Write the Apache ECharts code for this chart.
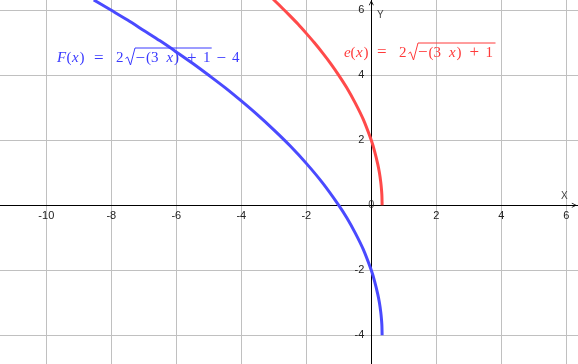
<!DOCTYPE html>
<html>
<head>
<meta charset="utf-8">
<script src="https://cdn.jsdelivr.net/npm/echarts@6/dist/echarts.min.js"></script>
<style>html,body{margin:0;padding:0;background:#fff;}#c{width:578px;height:364px;}</style>
</head>
<body>
<div id="c"></div>
<script>
// e(x) = 2 sqrt(-(3x)+1) : points
const eX = [-3.02, -2.75, -2.5, -2.25, -2, -1.75, -1.5, -1.25, -1, -0.75, -0.5, -0.25, 0, 0.1, 0.2, 0.25, 0.29, 0.31, 0.325, 0.333];
const eY = [6.34, 6.08, 5.83, 5.57, 5.29, 5.0, 4.69, 4.36, 4.0, 3.61, 3.16, 2.65, 2.0, 1.67, 1.26, 1.0, 0.72, 0.53, 0.32, 0.0];
// F(x) = e(x) - 4 : points
const fX = [-8.54, -8, -7.5, -7, -6.5, -6, -5.5, -5, -4.5, -4, -3.5, -3, -2.5, -2, -1.5, -1, -0.75, -0.5, -0.25, 0, 0.1, 0.2, 0.25, 0.29, 0.31, 0.325, 0.333];
const fY = [6.32, 6.0, 5.70, 5.38, 5.06, 4.72, 4.37, 4.0, 3.62, 3.21, 2.78, 2.32, 1.83, 1.29, 0.69, 0.0, -0.39, -0.84, -1.35, -2.0, -2.33, -2.74, -3.0, -3.28, -3.47, -3.68, -4.0];
// axis ranges, tick step and origin label
const xRange = [-12, 8];
const yRange = [-6, 8];
const tickStep = 2;
const origin = [0, 0];
const originText = '0';

const RED = '#ff4a4a';
const BLUE = '#4a4aff';
const RED_TXT = '#ff3a3a';
const BLUE_TXT = '#3a3aff';

const zip = (a, b) => a.map((v, i) => [v, b[i]]);

const chart = echarts.init(document.getElementById('c'), null, {renderer: 'canvas'});
const chevron = 'path://M0,10 L5,0 L10,10 L8.4,10 L5,3.2 L1.6,10 Z';
const labelFont = {fontFamily: 'Liberation Sans', fontSize: 11, color: '#222'};

const SERIF = 'Liberation Serif';
// build one formula label out of text pieces
function formula(pieces, x0, cy, col) {
  return pieces.map(p => ({
    type: 'text', x: x0 + p[1], y: cy, z: 50,
    style: {text: p[0], fontFamily: SERIF, fontSize: p[2] === 2 ? 17 : 15, fontStyle: p[2] === 1 ? 'italic' : 'normal',
      fill: col, verticalAlign: 'middle', align: 'left'}
  }));
}
const fPieces = [['F', 0, 1], ['(', 9.5], ['x', 15, 1], [')', 22.5], ['=', 37, 2], ['2', 59],
  ['−', 78.5, 2], ['(', 89], ['3', 94], ['x', 109.5, 1], [')', 117], ['+', 130, 2], ['1', 146], ['−', 159.5, 2], ['4', 175]];
const ePieces = [['e', 0, 1], ['(', 6.5], ['x', 12, 1], [')', 19.5], ['=', 33, 2], ['2', 55],
  ['−', 74, 2], ['(', 84.5], ['3', 89.5], ['x', 105, 1], [')', 112.5], ['+', 125.5, 2], ['1', 141.5]];

// grid extends past the window so that ticks fall on multiples of 2
const PX = 32.5; // pixels per unit
const gridLeft = -18.7, gridTop = -54.7;
chart.setOption({
  animation: false,
  backgroundColor: '#ffffff',
  grid: {left: gridLeft, right: -53.3, top: gridTop, bottom: -36.3, containLabel: false, outerBoundsMode: 'none'},
  xAxis: {
    type: 'value', min: xRange[0], max: xRange[1], interval: tickStep,
    position: 'bottom', offset: yRange[0] * PX,
    axisLine: {show: true, onZero: false, lineStyle: {color: '#000', width: 1},
      symbol: ['none', chevron], symbolSize: [7, 5], symbolOffset: [0, -57]},
    axisTick: {show: false},
    splitLine: {show: true, lineStyle: {color: '#c0c0c0', width: 1}},
    axisLabel: Object.assign({margin: 5, hideOverlap: false,
      formatter: v => Math.abs(v) < 1e-9 ? '' : String(v)}, labelFont)
  },
  yAxis: {
    type: 'value', min: yRange[0], max: yRange[1], interval: tickStep,
    position: 'left', offset: xRange[0] * PX,
    axisLine: {show: true, onZero: false, lineStyle: {color: '#000', width: 1},
      symbol: ['none', chevron], symbolSize: [7, 5], symbolOffset: [0, -57.5]},
    axisTick: {show: false},
    splitLine: {show: true, lineStyle: {color: '#c0c0c0', width: 1}},
    axisLabel: Object.assign({margin: 7, hideOverlap: false,
      formatter: v => Math.abs(v) < 1e-9 ? '' : String(v)}, labelFont)
  },
  series: [
    {type: 'line', data: zip(eX, eY), showSymbol: false, smooth: 0.3,
      lineStyle: {color: RED, width: 3}, itemStyle: {color: RED}},
    {type: 'line', data: zip(fX, fY), showSymbol: false, smooth: 0.3,
      lineStyle: {color: BLUE, width: 3}, itemStyle: {color: BLUE}},
    {type: 'scatter', data: [origin], symbolSize: 1, z: 10, silent: true,
      itemStyle: {color: 'rgba(0,0,0,0)'},
      label: {show: true, position: 'inside', offset: [-10, 10], formatter: () => originText,
        fontFamily: 'Liberation Sans', fontSize: 11, color: '#222'},
      labelLayout: {hideOverlap: false}}
  ],
  graphic: {elements: [
    {type: 'text', x: 561, y: 196, z: 50, style: {text: 'X', fontFamily: 'Liberation Sans', fontSize: 10, fill: '#444', verticalAlign: 'middle'}},
    {type: 'text', x: 377, y: 15, z: 50, style: {text: 'Y', fontFamily: 'Liberation Sans', fontSize: 10, fill: '#444', verticalAlign: 'middle'}},
    ...formula(fPieces, 57, 58.5, BLUE_TXT),
    {type: 'polyline', z: 50, shape: {points: [[125.5, 58.5], [127.5, 57], [130.5, 65], [135, 48], [211.7, 48]]},
      style: {stroke: BLUE_TXT, lineWidth: 1, fill: null}},
    ...formula(ePieces, 344, 53, RED_TXT),
    {type: 'polyline', z: 50, shape: {points: [[408.5, 53.5], [410.5, 52], [413.5, 60], [418, 43], [495.5, 43]]},
      style: {stroke: RED_TXT, lineWidth: 1, fill: null}}
  ]}
});
</script>
</body>
</html>
